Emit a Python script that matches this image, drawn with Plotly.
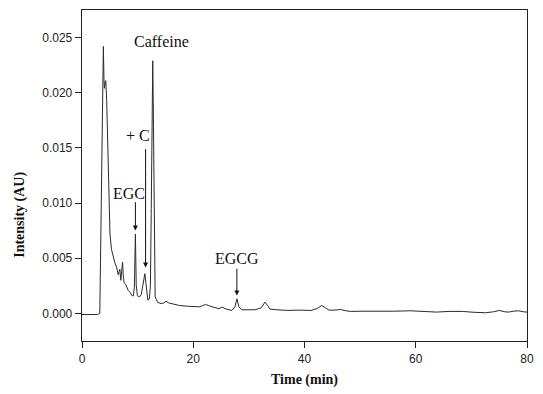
import plotly.graph_objects as go

# Chromatogram trace
time_min = [0, 1, 2, 2.8, 3.2, 3.4, 3.6, 3.84, 3.95, 4.02, 4.15, 4.27, 4.44, 4.7, 5.03,
            5.3, 5.62, 5.9, 6.22, 6.51, 6.68, 6.81, 6.92, 6.99, 7.15, 7.29, 7.42, 7.57,
            7.88, 8.28, 8.65, 9.0, 9.25, 9.42, 9.6, 9.75, 9.96, 10.36, 10.65, 10.9, 11.1,
            11.3, 11.5, 11.7, 11.84, 12.1, 12.3, 12.45, 12.6, 12.72, 12.85, 12.98, 13.15,
            13.6, 14.2, 14.7, 15.1, 15.6, 16.3, 17.5, 19.0, 21.0, 21.7, 22.2, 22.8, 23.6,
            24.6, 25.2, 25.9, 26.95, 27.5, 27.84, 28.2, 28.7, 30.0, 31.1, 32.2, 32.9, 33.4,
            33.8, 35.0, 37.0, 39.0, 41.2, 42.3, 43.1, 43.8, 44.4, 45.5, 46.5, 47.3, 48.3,
            50.5, 53.0, 56.0, 59.0, 61.5, 63.7, 66.0, 68.4, 70.5, 72.6, 74.0, 75.0, 76.0,
            76.7, 77.6, 78.5, 79.3, 80]
intensity_au = [-0.0001, -0.0001, -0.00012, -0.0001, 0.0000, 0.0095, 0.0190, 0.0242, 0.0212,
                0.0204, 0.0209, 0.0211, 0.0193, 0.0135, 0.0072,
                0.0058, 0.0051, 0.0046, 0.0042, 0.0035, 0.0038, 0.0040, 0.0033, 0.0030,
                0.0039, 0.00465, 0.0034, 0.0028,
                0.0026, 0.0021, 0.0019, 0.0016, 0.0016, 0.0024, 0.0072, 0.0026, 0.0016,
                0.0015, 0.0017, 0.0024, 0.0032,
                0.0036, 0.0027, 0.0015, 0.0012, 0.0013, 0.0025, 0.0095, 0.0190, 0.0229,
                0.0170, 0.0060, 0.0015,
                0.0010, 0.0009, 0.00095, 0.0011, 0.00095, 0.00085, 0.00072, 0.00065, 0.0006,
                0.0007, 0.00082, 0.0007, 0.00055,
                0.00042, 0.00057, 0.0004, 0.00027, 0.0006, 0.00133, 0.0006, 0.00033,
                0.00035, 0.00033, 0.0005, 0.00102, 0.0007,
                0.00039, 0.00033, 0.00027, 0.0003, 0.00027, 0.00045, 0.00072, 0.0005, 0.0003,
                0.0003, 0.00036, 0.00025, 0.00018,
                0.0002, 0.00018, 0.0002, 0.00024, 0.00018, 0.00012, 0.00018, 0.00018, 0.0001,
                0.00006, 0.00015, 0.00027, 0.00015,
                0.00012, 0.0002, 0.00024, 0.00015, 0.00012]

x_ticks = [0, 20, 40, 60, 80]
y_ticks = [0.000, 0.005, 0.010, 0.015, 0.020, 0.025]
y_tick_labels = ["0.000", "0.005", "0.010", "0.015", "0.020", "0.025"]

# Peak labels: text, label position, arrow tail, arrow head
label_names = ["Caffeine", "+ C", "EGC", "EGCG"]
label_x = [14.36, 10.1, 8.41, 27.84]
label_y = [0.02461, 0.01611, 0.0109, 0.00498]
arrow_names = ["+ C", "EGC", "EGCG"]
arrow_x = [11.43, 9.6, 27.84]
arrow_tail_y = [0.01502, 0.01022, 0.00419]
arrow_head_y = [0.00416, 0.00751, 0.00163]

serif = "Liberation Serif, Times New Roman, serif"
sans = "Liberation Sans, Arial, sans-serif"

fig = go.Figure()
fig.add_trace(go.Scatter(x=time_min, y=intensity_au, mode="lines",
                         line=dict(color="#2a2a2a", width=1), showlegend=False,
                         hoverinfo="skip"))

annotations = []
for name, lx, ly in zip(label_names, label_x, label_y):
    annotations.append(dict(x=lx, y=ly, xref="x", yref="y", text=name, showarrow=False,
                            font=dict(family=serif, size=16, color="#111")))
for ax_, ty, hy in zip(arrow_x, arrow_tail_y, arrow_head_y):
    annotations.append(dict(x=ax_, y=hy, xref="x", yref="y", ax=ax_, ay=ty,
                            axref="x", ayref="y", text="", showarrow=True,
                            arrowhead=2, arrowsize=1, arrowwidth=1, arrowcolor="#111"))
annotations.append(dict(x=-0.138, y=0.38, xref="paper", yref="paper", text="<b>Intensity (AU)</b>",
                        textangle=-90, showarrow=False, xanchor="center", yanchor="middle",
                        font=dict(family=serif, size=14, color="#111")))
annotations.append(dict(x=0.5, y=-0.1175, xref="paper", yref="paper", text="<b>Time (min)</b>",
                        showarrow=False, xanchor="center", yanchor="middle",
                        font=dict(family=serif, size=14, color="#111")))

fig.update_layout(
    width=543, height=394, autosize=False,
    margin=dict(l=82, r=11, t=9, b=53, pad=0),
    paper_bgcolor="white", plot_bgcolor="white",
    annotations=annotations,
    hovermode=False,
    xaxis=dict(range=[0, 80], tickvals=x_ticks, ticks="outside", ticklen=6, tickwidth=1,
               tickcolor="#222", showline=True, linecolor="#222", linewidth=1.3, mirror=True,
               showgrid=False, zeroline=False,
               tickfont=dict(family=sans, size=12, color="#222")),
    yaxis=dict(range=[-0.0025, 0.0275], tickvals=y_ticks, ticktext=y_tick_labels,
               ticks="outside", ticklen=6, tickwidth=1, tickcolor="#222",
               showline=True, linecolor="#222", linewidth=1.3, mirror=True,
               showgrid=False, zeroline=False,
               tickfont=dict(family=sans, size=12, color="#222")),
)

fig.write_html("out.html", config={"displayModeBar": False, "staticPlot": True},
               post_script="document.body.style.margin='0';document.body.style.overflow='hidden';")
